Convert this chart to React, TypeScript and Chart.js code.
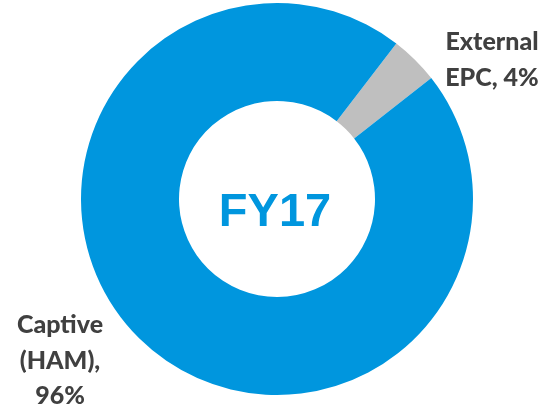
import React, { useEffect, useRef } from "react";
import { Chart, registerables } from "chart.js";

Chart.register(...registerables);

const categories = ["External EPC", "Captive (HAM)"];
const shares = [4, 96];
const labelLines = [["External", "EPC, 4%"], ["Captive", "(HAM),", "96%"]];
const centerTitle = "FY17";
const colors = ["#BFBFBF", "#0096DE"];

const labelPlugin = {
  id: "labelPlugin",
  afterDraw(chart: any) {
    const ctx = chart.ctx;
    const meta = chart.getDatasetMeta(0);
    const arc = meta.data[0];
    const cx = arc.x;
    const cy = arc.y;
    ctx.save();
    ctx.textAlign = "center";
    ctx.textBaseline = "alphabetic";
    ctx.fillStyle = "#0096DE";
    ctx.font = "bold 47px 'Liberation Sans', Arial, sans-serif";
    ctx.fillText(centerTitle, cx - 2, cy + 27);

    ctx.fillStyle = "#404040";
    ctx.font = "900 25px Lato, 'Open Sans', sans-serif";
    const anchors = [
      { dx: 215, dy: -149 },
      { dx: -217, dy: 134 },
    ];
    labelLines.forEach((lines, i) => {
      lines.forEach((ln, j) => {
        ctx.fillText(ln, cx + anchors[i].dx, cy + anchors[i].dy + j * 35.5);
      });
    });
    ctx.restore();
  },
};

export default function App() {
  const ref = useRef<HTMLCanvasElement>(null);
  useEffect(() => {
    document.body.style.margin = "0";
    const chart = new Chart(ref.current!, {
      type: "doughnut",
      data: {
        labels: categories,
        datasets: [
          {
            data: shares,
            backgroundColor: colors,
            borderWidth: 0,
          },
        ],
      },
      options: {
        responsive: false,
        animation: false,
        rotation: 37.5,
        cutout: "50%",
        layout: { padding: { top: 3, bottom: 15, left: 81, right: 74 } },
        plugins: {
          legend: { display: false },
          tooltip: { enabled: false },
        },
      },
      plugins: [labelPlugin],
    });
    return () => chart.destroy();
  }, []);
  return (
    <div style={{ width: 547, height: 410, background: "#fff" }}>
      <canvas ref={ref} width={547} height={410} />
    </div>
  );
}
